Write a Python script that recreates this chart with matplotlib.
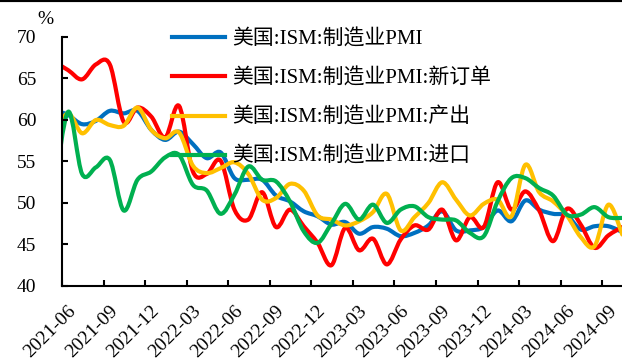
import numpy as np
import matplotlib

matplotlib.use("Agg")
import matplotlib.pyplot as plt
from matplotlib.path import Path
from matplotlib.patches import PathPatch
from matplotlib.lines import Line2D
from matplotlib.transforms import ScaledTranslation


BLUE = "#0070C0"
RED = "#FF0000"
ORANGE = "#FFC000"
GREEN = "#00B050"

# monthly values, 2021-05 .. 2024-10 (first month sits left of the axis and is clipped)
months = (
    ["2021-%02d" % m for m in range(5, 13)]
    + ["2022-%02d" % m for m in range(1, 13)]
    + ["2023-%02d" % m for m in range(1, 13)]
    + ["2024-%02d" % m for m in range(1, 11)]
)

pmi = [
    61.2, 60.6, 59.5, 59.9, 61.1, 60.8, 61.1, 58.8,
    57.6, 58.6, 57.1, 55.4, 56.1, 53.0, 52.8, 52.8, 50.9, 50.2, 49.0, 48.4,
    47.4, 47.7, 46.3, 47.1, 46.9, 46.0, 46.4, 47.3, 49.0, 46.7, 46.7, 47.1,
    49.1, 47.8, 50.3, 49.2, 48.7, 48.5, 46.8, 47.2, 47.2, 46.5,
]
new_orders = [
    67.0, 66.0, 64.9, 66.7, 66.7, 59.8, 61.5, 60.4,
    57.9, 61.7, 53.8, 53.5, 55.1, 49.2, 48.0, 51.3, 47.1, 49.2, 47.2, 45.2,
    42.5, 47.0, 44.3, 45.7, 42.6, 45.6, 47.3, 46.8, 49.2, 45.5, 48.3, 47.1,
    52.5, 49.2, 51.4, 49.1, 45.4, 49.3, 47.4, 44.6, 46.1, 47.1,
]
production = [
    58.5, 60.8, 58.4, 60.0, 59.4, 59.3, 61.5, 58.8,
    57.8, 58.5, 54.5, 53.6, 54.2, 54.9, 53.5, 50.4, 50.6, 52.3, 51.5, 48.5,
    48.0, 47.3, 47.8, 48.9, 51.1, 46.7, 48.3, 50.0, 52.5, 50.4, 48.5, 49.9,
    50.4, 48.4, 54.6, 51.3, 50.2, 48.5, 45.9, 44.8, 49.8, 46.2,
]
imports = [
    51.5, 61.0, 53.5, 54.3, 55.2, 49.1, 52.8, 53.8,
    55.5, 55.8, 52.2, 51.5, 48.7, 51.0, 54.4, 52.8, 52.6, 50.2, 46.6, 45.2,
    47.5, 49.9, 48.0, 49.8, 47.6, 49.2, 49.6, 48.3, 48.0, 47.9, 46.4, 46.0,
    50.2, 53.0, 53.0, 51.8, 50.9, 48.6, 48.6, 49.5, 48.3, 48.2,
]

series_labels = [
    "美国:ISM:制造业PMI",
    "美国:ISM:制造业PMI:新订单",
    "美国:ISM:制造业PMI:产出",
    "美国:ISM:制造业PMI:进口",
]
tick_months = ["2021-06", "2021-09", "2021-12", "2022-03", "2022-06", "2022-09",
               "2022-12", "2023-03", "2023-06", "2023-09", "2023-12", "2024-03",
               "2024-06", "2024-09"]


def smooth_path(x, y):
    # excel-style smoothed line: cubic bezier through every point
    pts = np.column_stack([x, y])
    verts = [pts[0]]
    codes = [Path.MOVETO]
    n = len(pts)
    for i in range(n - 1):
        p0 = pts[i - 1] if i > 0 else pts[i]
        p1 = pts[i]
        p2 = pts[i + 1]
        p3 = pts[i + 2] if i + 2 < n else pts[i + 1]
        verts += [p1 + (p2 - p0) / 6, p2 - (p3 - p1) / 6, p2]
        codes += [Path.CURVE4] * 3
    return Path(verts, codes)


if __name__ == "__main__":
    plt.rcParams["font.family"] = ["Liberation Serif", "Noto Sans CJK SC"]
    plt.rcParams["font.size"] = 14

    fig = plt.figure(figsize=(6.22, 3.63), dpi=100)
    ax = fig.add_axes([62 / 622, 1 - 286 / 363, 1 - 62 / 622, 249 / 363])

    # points sit mid-month, ticks at month start
    x = np.arange(len(months)) - 0.55

    handles = []
    for vals, color, label in [
        (pmi, BLUE, series_labels[0]),
        (new_orders, RED, series_labels[1]),
        (production, ORANGE, series_labels[2]),
        (imports, GREEN, series_labels[3]),
    ]:
        patch = PathPatch(smooth_path(x, np.array(vals)), fill=False, edgecolor=color,
                          lw=3, capstyle="round", joinstyle="round")
        ax.add_patch(patch)
        handles.append(Line2D([], [], color=color, lw=3, label=label))

    ax.set_xlim(0, 40.43)
    ax.set_ylim(40, 70)
    ax.set_yticks(np.arange(40, 71, 5))
    tick_pos = [months.index(m) - 1 for m in tick_months]
    ax.set_xticks(tick_pos)
    ax.set_xticklabels(tick_months)

    for side in ["top", "right"]:
        ax.spines[side].set_visible(False)
    for side in ["left", "bottom"]:
        ax.spines[side].set_linewidth(1.5)
    ax.tick_params(axis="both", direction="in", length=4.5, width=1.5, labelsize=14)
    ax.tick_params(axis="y", pad=18.5)
    ax.tick_params(axis="x", pad=12)
    shift = ScaledTranslation(4 / 72, 0, fig.dpi_scale_trans)
    for lab in ax.get_xticklabels():
        lab.set_rotation(45)
        lab.set_ha("right")
        lab.set_va("top")
        lab.set_rotation_mode("anchor")
        lab.set_transform(lab.get_transform() + shift)

    ax.legend(handles=handles, loc="upper left", bbox_to_anchor=(0.196, 1.03),
              frameon=False, borderpad=0, borderaxespad=0, fontsize=15,
              handlelength=2.55, handletextpad=0.34, labelspacing=0.92)

    fig.text(45 / 622, 1 - 20 / 363, "%", ha="center", va="center", fontsize=14)
    fig.add_artist(Line2D([0, 1], [1, 1], transform=fig.transFigure, color="black", lw=3))

    fig.savefig("out.png", dpi=100)
